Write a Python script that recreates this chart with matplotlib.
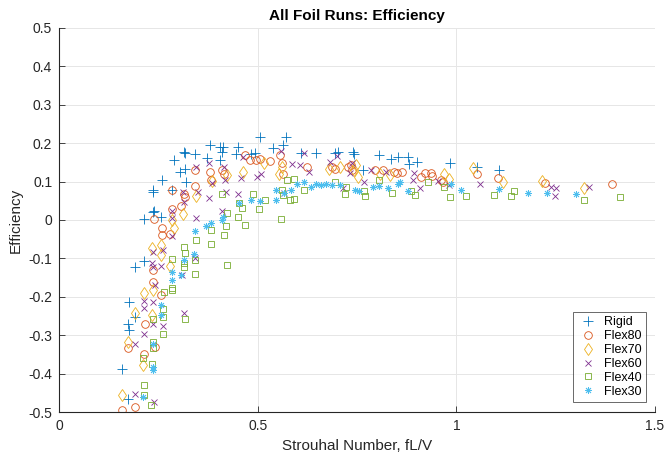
"""Scatter of foil efficiency against Strouhal number for each foil stiffness."""
import matplotlib.pyplot as plt

# ------------------ DATA ------------------ #
rigid_st = [0.159, 0.173, 0.176, 0.174, 0.175, 0.192, 0.192, 0.213, 0.213, 0.235,
            0.236, 0.237, 0.239, 0.257, 0.260, 0.288, 0.283, 0.304, 0.314, 0.317,
            0.320, 0.317, 0.343, 0.373, 0.380, 0.406, 0.412, 0.411, 0.405, 0.446,
            0.451, 0.484, 0.493, 0.505, 0.539, 0.563, 0.571, 0.610, 0.646, 0.694,
            0.702, 0.740, 0.742, 0.765, 0.806, 0.836, 0.852, 0.878, 0.880, 0.902,
            0.984, 1.052, 1.108]
rigid_eff = [-0.389, -0.465, -0.213, -0.270, -0.287, -0.122, -0.252, -0.106, 0.003, 0.074,
             0.078, 0.022, 0.024, 0.007, 0.103, 0.157, 0.077, 0.126, 0.176, 0.174,
             0.100, 0.133, 0.171, 0.161, 0.194, 0.190, 0.191, 0.176, 0.157, 0.172,
             0.191, 0.172, 0.174, 0.215, 0.187, 0.194, 0.217, 0.174, 0.174, 0.174,
             0.178, 0.178, 0.172, 0.130, 0.170, 0.159, 0.163, 0.163, 0.146, 0.150,
             0.148, 0.139, 0.130]

flex80_st = [0.159, 0.174, 0.192, 0.216, 0.213, 0.236, 0.236, 0.238, 0.241, 0.258,
             0.259, 0.256, 0.278, 0.283, 0.285, 0.306, 0.314, 0.317, 0.342, 0.342,
             0.380, 0.381, 0.410, 0.416, 0.467, 0.480, 0.496, 0.505, 0.530, 0.555,
             0.560, 0.563, 0.624, 0.688, 0.694, 0.726, 0.734, 0.738, 0.795, 0.816,
             0.843, 0.850, 0.862, 0.912, 0.921, 0.935, 0.938, 0.960, 0.965, 1.051,
             1.105, 1.222, 1.391]
flex80_eff = [-0.494, -0.333, -0.486, -0.271, -0.348, -0.130, -0.161, 0.003, -0.330, -0.022,
              -0.039, -0.196, -0.037, 0.028, 0.077, 0.037, 0.068, 0.059, 0.130, 0.089,
              0.124, 0.104, 0.130, 0.120, 0.168, 0.157, 0.157, 0.159, 0.154, 0.168,
              0.148, 0.120, 0.139, 0.137, 0.132, 0.137, 0.142, 0.129, 0.129, 0.130,
              0.126, 0.122, 0.125, 0.113, 0.121, 0.122, 0.115, 0.104, 0.100, 0.119,
              0.110, 0.097, 0.093]

flex70_st = [0.159, 0.173, 0.192, 0.213, 0.210, 0.233, 0.233, 0.235, 0.257, 0.257,
             0.280, 0.283, 0.288, 0.312, 0.345, 0.384, 0.423, 0.462, 0.515, 0.553,
             0.560, 0.678, 0.708, 0.742, 0.752, 0.747, 0.808, 0.833, 0.970, 0.982,
             1.042, 1.118, 1.216, 1.321]
flex70_eff = [-0.457, -0.317, -0.243, -0.191, -0.377, -0.074, -0.248, -0.183, -0.065, -0.091,
              -0.120, 0.000, -0.022, 0.016, 0.063, 0.102, 0.116, 0.124, 0.148, 0.120,
              0.139, 0.132, 0.137, 0.130, 0.113, 0.142, 0.119, 0.117, 0.120, 0.107,
              0.135, 0.100, 0.102, 0.083]

flex60_st = [0.192, 0.192, 0.213, 0.213, 0.213, 0.233, 0.235, 0.237, 0.235, 0.237,
             0.239, 0.240, 0.256, 0.261, 0.262, 0.283, 0.285, 0.283, 0.310, 0.313,
             0.315, 0.312, 0.344, 0.341, 0.344, 0.349, 0.376, 0.378, 0.384, 0.411,
             0.415, 0.418, 0.421, 0.449, 0.458, 0.462, 0.498, 0.508, 0.558, 0.567,
             0.585, 0.605, 0.617, 0.630, 0.683, 0.700, 0.714, 0.731, 0.736, 0.768,
             0.784, 0.822, 0.894, 0.891, 0.909, 0.954, 0.982, 1.060, 1.238, 1.251,
             1.249, 1.334]
flex60_eff = [-0.454, -0.324, -0.296, -0.230, -0.211, -0.113, -0.122, -0.083, -0.271, -0.213,
              -0.474, -0.170, -0.119, -0.277, -0.077, -0.043, 0.004, 0.024, -0.143, -0.243,
              0.048, 0.074, 0.004, -0.098, 0.139, 0.074, 0.058, 0.148, 0.096, 0.023,
              0.139, 0.104, 0.074, 0.067, 0.109, 0.165, 0.113, 0.120, 0.180, 0.070,
              0.145, 0.143, 0.174, 0.126, 0.150, 0.167, 0.083, 0.122, 0.148, 0.100,
              0.130, 0.126, 0.123, 0.104, 0.084, 0.102, 0.091, 0.094, 0.085, 0.084,
              0.063, 0.087]

flex40_st = [0.213, 0.212, 0.213, 0.232, 0.233, 0.235, 0.237, 0.235, 0.261, 0.261,
             0.262, 0.263, 0.283, 0.285, 0.285, 0.313, 0.314, 0.316, 0.314, 0.316,
             0.344, 0.341, 0.342, 0.381, 0.381, 0.411, 0.414, 0.420, 0.423, 0.423,
             0.451, 0.453, 0.459, 0.467, 0.487, 0.504, 0.518, 0.558, 0.562, 0.563,
             0.574, 0.581, 0.592, 0.592, 0.616, 0.694, 0.720, 0.723, 0.768, 0.770,
             0.804, 0.838, 0.886, 0.896, 0.928, 0.968, 0.984, 1.025, 1.094, 1.137,
             1.144, 1.321, 1.412]
flex40_eff = [-0.430, -0.359, -0.455, -0.481, -0.374, -0.317, -0.333, -0.257, -0.298, -0.252,
              -0.233, -0.187, -0.102, -0.176, -0.183, -0.123, -0.113, -0.087, -0.070, -0.257,
              -0.052, -0.141, -0.104, -0.026, -0.063, 0.067, -0.039, -0.017, 0.017, -0.117,
              0.009, 0.045, 0.030, -0.013, 0.067, 0.028, 0.052, 0.003, 0.078, 0.065,
              0.104, 0.052, 0.055, 0.107, 0.077, 0.100, 0.067, 0.087, 0.076, 0.063,
              0.104, 0.070, 0.076, 0.064, 0.100, 0.087, 0.061, 0.063, 0.064, 0.063,
              0.076, 0.052, 0.061]

flex30_st = [0.210, 0.235, 0.235, 0.237, 0.256, 0.256, 0.283, 0.283, 0.306, 0.313,
             0.341, 0.339, 0.370, 0.381, 0.409, 0.412, 0.453, 0.483, 0.505, 0.545,
             0.545, 0.565, 0.584, 0.598, 0.617, 0.634, 0.646, 0.658, 0.672, 0.688,
             0.708, 0.745, 0.754, 0.790, 0.804, 0.829, 0.854, 0.859, 0.878, 0.987,
             1.011, 1.108, 1.181, 1.227, 1.300]
flex30_eff = [-0.461, -0.383, -0.391, -0.322, -0.222, -0.248, -0.135, -0.157, -0.143, -0.104,
              -0.030, -0.089, -0.016, -0.007, 0.000, 0.007, 0.045, 0.052, 0.050, 0.077,
              0.052, 0.071, 0.078, 0.093, 0.100, 0.085, 0.093, 0.091, 0.093, 0.090,
              0.091, 0.078, 0.076, 0.087, 0.089, 0.084, 0.093, 0.100, 0.076, 0.093,
              0.077, 0.080, 0.071, 0.071, 0.068]
# ---------------- END DATA ---------------- #

plt.rcParams["font.family"] = ["Liberation Sans", "DejaVu Sans"]

fig = plt.figure(figsize=(6.65, 4.54), dpi=100)
ax = fig.add_axes([0.089, 0.0925, 0.896, 0.846])

# (name, x, y, marker, size, colour); asterisk drawn as 8 spokes
series = [
    ("Rigid", rigid_st, rigid_eff, "+", 6.5, "#0072BD"),
    ("Flex80", flex80_st, flex80_eff, "o", 5.5, "#D95319"),
    ("Flex70", flex70_st, flex70_eff, "d", 6, "#EDB120"),
    ("Flex60", flex60_st, flex60_eff, "x", 5, "#7E2F8E"),
    ("Flex40", flex40_st, flex40_eff, "s", 4.5, "#77AC30"),
    ("Flex30", flex30_st, flex30_eff, (8, 2, 0), 5, "#4DBEEE"),
]
for name, st, eff, marker, size, color in series:
    ax.plot(st, eff, linestyle="none", marker=marker, markersize=size,
            markerfacecolor="none", markeredgecolor=color,
            markeredgewidth=0.6, label=name)

ax.set_xlim(0, 1.5)
ax.set_ylim(-0.5, 0.5)
ax.set_xticks([0, 0.5, 1, 1.5])
ax.set_xticklabels(["0", "0.5", "1", "1.5"])
ax.set_yticks([-0.5, -0.4, -0.3, -0.2, -0.1, 0, 0.1, 0.2, 0.3, 0.4, 0.5])
ax.set_yticklabels(["-0.5", "-0.4", "-0.3", "-0.2", "-0.1", "0",
                    "0.1", "0.2", "0.3", "0.4", "0.5"])
ax.grid(True, color="#e6e6e6", linewidth=0.7)
ax.set_axisbelow(True)

for side in ("top", "right"):
    ax.spines[side].set_visible(False)
for side in ("left", "bottom"):
    ax.spines[side].set_color("#262626")
    ax.spines[side].set_linewidth(0.8)
ax.tick_params(direction="in", length=4, width=0.6, colors="#262626",
               labelsize=10, pad=5)

ax.set_xlabel("Strouhal Number, fL/V", fontsize=11, color="#262626")
ax.set_ylabel("Efficiency", fontsize=11, color="#262626")
ax.set_title("All Foil Runs: Efficiency", fontsize=11, fontweight="bold", pad=6)

leg = ax.legend(loc="lower right", fontsize=9, frameon=True, fancybox=False,
                edgecolor="#262626", borderpad=0.35, handletextpad=0.5,
                handlelength=1.6, labelspacing=0.15, borderaxespad=0,
                bbox_to_anchor=(0.985, 0.026))
leg.get_frame().set_linewidth(0.6)

fig.savefig("out.png", dpi=100)
